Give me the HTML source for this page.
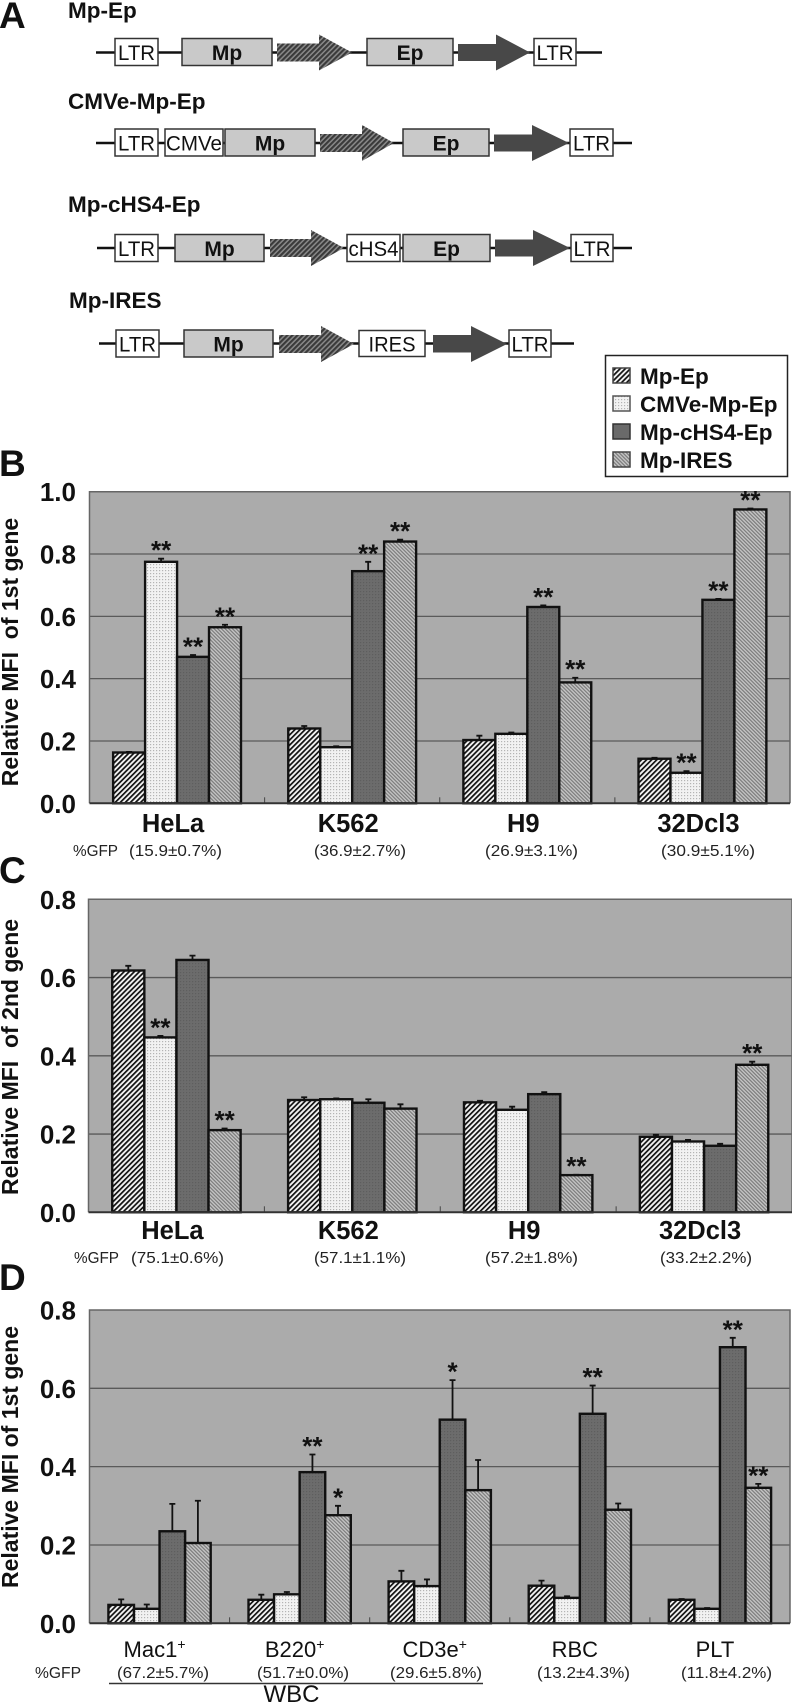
<!DOCTYPE html>
<html lang="en">
<head>
<meta charset="utf-8">
<title>MFI bar charts</title>
<style>
html,body{margin:0;padding:0;background:#fff;}
body{width:792px;height:1704px;overflow:hidden;}
svg{display:block;font-family:"Liberation Sans",Arial,sans-serif;filter:blur(0.35px);}
.ttl{font-size:22.5px;font-weight:bold;fill:#111;}
.ltr{font-size:21px;fill:#111;text-anchor:middle;}
.bold{font-size:21px;font-weight:bold;fill:#111;text-anchor:middle;}
.letter{font-size:37px;font-weight:bold;fill:#111;}
.leg{font-size:22.5px;font-weight:bold;fill:#111;}
.ytitle{font-size:23px;font-weight:bold;fill:#111;text-anchor:middle;}
.gfp{font-size:15.5px;fill:#222;}
.bx{fill:#fff;stroke:#333;stroke-width:1.5;}
.gb{fill:#c9c9c9;stroke:#333;stroke-width:1.5;}
.ln{stroke:#111;stroke-width:2.5;}
</style>
</head>
<body>
<svg id="fig" width="792" height="1704" viewBox="0 0 792 1704" xmlns="http://www.w3.org/2000/svg">
<defs>
<pattern id="p-hatch" width="3.6" height="3.6" patternUnits="userSpaceOnUse" patternTransform="rotate(45)"><rect width="3.6" height="3.6" fill="#f2f2f2"/><rect width="1.7" height="3.6" fill="#111"/></pattern>
<pattern id="p-dots" width="3" height="3" patternUnits="userSpaceOnUse"><rect width="3" height="3" fill="#f2f2f2"/><rect width="1.2" height="1.2" fill="#b4b4b4"/></pattern>
<pattern id="p-dark" width="3" height="3" patternUnits="userSpaceOnUse"><rect width="3" height="3" fill="#6c6c6c"/><rect width="1.2" height="1.2" fill="#5e5e5e"/></pattern>
<pattern id="p-ires" width="2.6" height="2.6" patternUnits="userSpaceOnUse" patternTransform="rotate(-45)"><rect width="2.6" height="2.6" fill="#c4c4c4"/><rect width="1.2" height="2.6" fill="#7c7c7c"/></pattern>
<pattern id="p-arrow" width="3.6" height="3.6" patternUnits="userSpaceOnUse" patternTransform="rotate(45)"><rect width="3.6" height="3.6" fill="#8a8a8a"/><rect width="2.1" height="3.6" fill="#3a3a3a"/></pattern>
</defs>

<text class="letter" x="-1" y="28">A</text>
<text class="letter" x="-1" y="476">B</text>
<text class="letter" x="-1" y="883">C</text>
<text class="letter" x="-1" y="1290">D</text>

<g>
<text class="ttl" x="68" y="18">Mp-Ep</text>
<line class="ln" x1="96" y1="52.5" x2="602" y2="52.5"/>
<rect class="bx" x="115" y="38.5" width="43" height="27"/><text class="ltr" x="136.5" y="60" textLength="37" lengthAdjust="spacingAndGlyphs">LTR</text>
<rect class="gb" x="182" y="38.5" width="90" height="27"/><text class="bold" x="227" y="60">Mp</text>
<polygon fill="url(#p-arrow)" points="277,43.5 319,43.5 319,34.5 352,52.5 319,70.5 319,61.5 277,61.5"/>
<rect class="gb" x="367" y="38.5" width="86" height="27"/><text class="bold" x="410" y="60">Ep</text>
<polygon fill="#484848" points="458,44 496,44 496,34.5 530,52.5 496,70.5 496,61 458,61"/>
<rect class="bx" x="534" y="38.5" width="42" height="27"/><text class="ltr" x="555" y="60" textLength="37" lengthAdjust="spacingAndGlyphs">LTR</text>
</g>

<g>
<text class="ttl" x="68" y="109">CMVe-Mp-Ep</text>
<line class="ln" x1="96" y1="143" x2="632" y2="143"/>
<rect class="bx" x="115" y="129" width="43" height="27"/><text class="ltr" x="136.5" y="150.5" textLength="37" lengthAdjust="spacingAndGlyphs">LTR</text>
<rect class="bx" x="165" y="129" width="58" height="27"/><text class="ltr" x="194" y="150.5" textLength="56" lengthAdjust="spacingAndGlyphs">CMVe</text>
<rect class="gb" x="225" y="129" width="90" height="27"/><text class="bold" x="270" y="150.5">Mp</text>
<polygon fill="url(#p-arrow)" points="320,134 362,134 362,125 394,143 362,161 362,152 320,152"/>
<rect class="gb" x="403" y="129" width="86" height="27"/><text class="bold" x="446" y="150.5">Ep</text>
<polygon fill="#484848" points="494,134.5 532,134.5 532,125 569,143 532,161 532,151.5 494,151.5"/>
<rect class="bx" x="570" y="129" width="43" height="27"/><text class="ltr" x="591.5" y="150.5" textLength="37" lengthAdjust="spacingAndGlyphs">LTR</text>
</g>

<g>
<text class="ttl" x="68" y="212">Mp-cHS4-Ep</text>
<line class="ln" x1="97" y1="248" x2="632" y2="248"/>
<rect class="bx" x="115" y="234.5" width="43" height="27"/><text class="ltr" x="136.5" y="256" textLength="37" lengthAdjust="spacingAndGlyphs">LTR</text>
<rect class="gb" x="175" y="234.5" width="89" height="27"/><text class="bold" x="219.5" y="256">Mp</text>
<polygon fill="url(#p-arrow)" points="270,239 311,239 311,230 344,248 311,266 311,257 270,257"/>
<rect class="bx" x="347" y="234.5" width="53" height="27"/><text class="ltr" x="373.5" y="256" textLength="50" lengthAdjust="spacingAndGlyphs">cHS4</text>
<rect class="gb" x="403" y="234.5" width="87" height="27"/><text class="bold" x="446.5" y="256">Ep</text>
<polygon fill="#484848" points="495,239.5 533,239.5 533,230 570,248 533,266 533,256.5 495,256.5"/>
<rect class="bx" x="571" y="234.5" width="42" height="27"/><text class="ltr" x="592" y="256" textLength="37" lengthAdjust="spacingAndGlyphs">LTR</text>
</g>

<g>
<text class="ttl" x="69" y="308">Mp-IRES</text>
<line class="ln" x1="99" y1="343.5" x2="574" y2="343.5"/>
<rect class="bx" x="116" y="330" width="43" height="27"/><text class="ltr" x="137.5" y="351.5" textLength="37" lengthAdjust="spacingAndGlyphs">LTR</text>
<rect class="gb" x="184" y="330" width="89" height="27"/><text class="bold" x="228.5" y="351.5">Mp</text>
<polygon fill="url(#p-arrow)" points="279,335 321,335 321,326 354,344 321,362 321,353 279,353"/>
<rect class="bx" x="359" y="330.5" width="66" height="26"/><text class="ltr" x="392" y="351.5" textLength="47" lengthAdjust="spacingAndGlyphs">IRES</text>
<polygon fill="#484848" points="433,335 471,335 471,326 507,344 471,362 471,352.5 433,352.5"/>
<rect class="bx" x="509" y="330" width="42" height="27"/><text class="ltr" x="530" y="351.5" textLength="37" lengthAdjust="spacingAndGlyphs">LTR</text>
</g>

<g>
<rect x="605.5" y="355.5" width="182" height="121" fill="#fff" stroke="#222" stroke-width="1.5"/>
<rect x="613" y="368" width="17" height="15" fill="url(#p-hatch)" stroke="#444" stroke-width="1.5"/>
<text class="leg" x="640" y="384">Mp-Ep</text>
<rect x="613" y="396" width="17" height="15" fill="url(#p-dots)" stroke="#555" stroke-width="1.5"/>
<text class="leg" x="640" y="412">CMVe-Mp-Ep</text>
<rect x="613" y="424" width="17" height="15" fill="#6a6a6a" stroke="#333" stroke-width="1.5"/>
<text class="leg" x="640" y="440">Mp-cHS4-Ep</text>
<rect x="613" y="452" width="17" height="15" fill="url(#p-ires)" stroke="#444" stroke-width="1.5"/>
<text class="leg" x="640" y="468">Mp-IRES</text>
</g>

<text class="ytitle" transform="translate(18,652) rotate(-90)">Relative MFI&#160;&#160;of 1st gene</text>
<text class="ytitle" transform="translate(18,1057) rotate(-90)">Relative MFI&#160;&#160;of 2nd gene</text>
<text class="ytitle" transform="translate(18,1457) rotate(-90)">Relative MFI of 1st gene</text>

<g>
<text class="gfp" x="73" y="856" textLength="45" lengthAdjust="spacingAndGlyphs">%GFP</text>
<text class="gfp" x="129" y="856" textLength="93" lengthAdjust="spacingAndGlyphs">(15.9±0.7%)</text>
<text class="gfp" x="314" y="856" textLength="92" lengthAdjust="spacingAndGlyphs">(36.9±2.7%)</text>
<text class="gfp" x="485" y="856" textLength="93" lengthAdjust="spacingAndGlyphs">(26.9±3.1%)</text>
<text class="gfp" x="661" y="856" textLength="94" lengthAdjust="spacingAndGlyphs">(30.9±5.1%)</text>
</g>
<g>
<text class="gfp" x="74" y="1263" textLength="45" lengthAdjust="spacingAndGlyphs">%GFP</text>
<text class="gfp" x="131" y="1263" textLength="93" lengthAdjust="spacingAndGlyphs">(75.1±0.6%)</text>
<text class="gfp" x="314" y="1263" textLength="92" lengthAdjust="spacingAndGlyphs">(57.1±1.1%)</text>
<text class="gfp" x="485" y="1263" textLength="93" lengthAdjust="spacingAndGlyphs">(57.2±1.8%)</text>
<text class="gfp" x="660" y="1263" textLength="92" lengthAdjust="spacingAndGlyphs">(33.2±2.2%)</text>
</g>
<g>
<text class="gfp" x="35" y="1678" textLength="46" lengthAdjust="spacingAndGlyphs">%GFP</text>
<text class="gfp" x="117" y="1678" textLength="92" lengthAdjust="spacingAndGlyphs">(67.2±5.7%)</text>
<text class="gfp" x="257" y="1678" textLength="92" lengthAdjust="spacingAndGlyphs">(51.7±0.0%)</text>
<text class="gfp" x="390" y="1678" textLength="92" lengthAdjust="spacingAndGlyphs">(29.6±5.8%)</text>
<text class="gfp" x="537" y="1678" textLength="93" lengthAdjust="spacingAndGlyphs">(13.2±4.3%)</text>
<text class="gfp" x="681" y="1678" textLength="91" lengthAdjust="spacingAndGlyphs">(11.8±4.2%)</text>
</g>
<line x1="109" y1="1683.5" x2="483" y2="1683.5" stroke="#333" stroke-width="1.5"/>
<text x="291.5" y="1702" font-size="24" fill="#111" text-anchor="middle">WBC</text>

<script>
// Panel B data
const bCategories = ['HeLa', 'K562', 'H9', '32Dcl3'];
const bTicks = ['0.0', '0.2', '0.4', '0.6', '0.8', '1.0'];
const bTickValues = [0, 0.2, 0.4, 0.6, 0.8, 1.0];
const bMpEp = [0.163, 0.24, 0.203, 0.143];
const bCmve = [0.775, 0.18, 0.223, 0.098];
const bChs4 = [0.47, 0.745, 0.63, 0.653];
const bIres = [0.565, 0.84, 0.388, 0.943];
const bMpEpErr = [0.002, 0.008, 0.014, 0.003];
const bCmveErr = [0.01, 0.003, 0.004, 0.005];
const bChs4Err = [0.006, 0.03, 0.005, 0.003];
const bIresErr = [0.008, 0.006, 0.015, 0.003];
const bMpEpStars = ['', '', '', ''];
const bCmveStars = ['**', '', '', '**'];
const bChs4Stars = ['**', '**', '**', '**'];
const bIresStars = ['**', '**', '**', '**'];

// Panel C data
const cCategories = ['HeLa', 'K562', 'H9', '32Dcl3'];
const cTicks = ['0.0', '0.2', '0.4', '0.6', '0.8'];
const cTickValues = [0, 0.2, 0.4, 0.6, 0.8];
const cMpEp = [0.618, 0.287, 0.281, 0.193];
const cCmve = [0.447, 0.289, 0.262, 0.181];
const cChs4 = [0.645, 0.28, 0.302, 0.17];
const cIres = [0.21, 0.265, 0.095, 0.377];
const cMpEpErr = [0.012, 0.007, 0.004, 0.005];
const cCmveErr = [0.004, 0.002, 0.008, 0.004];
const cChs4Err = [0.011, 0.009, 0.005, 0.005];
const cIresErr = [0.004, 0.011, 0.001, 0.008];
const cMpEpStars = ['', '', '', ''];
const cCmveStars = ['**', '', '', ''];
const cChs4Stars = ['', '', '', ''];
const cIresStars = ['**', '', '**', '**'];

// Panel D data
const dCategories = ['Mac1', 'B220', 'CD3e', 'RBC', 'PLT'];
const dCategorySup = ['+', '+', '+', '', ''];
const dTicks = ['0.0', '0.2', '0.4', '0.6', '0.8'];
const dTickValues = [0, 0.2, 0.4, 0.6, 0.8];
const dMpEp = [0.047, 0.06, 0.107, 0.096, 0.06];
const dCmve = [0.037, 0.074, 0.095, 0.065, 0.037];
const dChs4 = [0.235, 0.386, 0.52, 0.535, 0.705];
const dIres = [0.205, 0.276, 0.34, 0.29, 0.346];
const dMpEpErr = [0.014, 0.013, 0.027, 0.013, 0.002];
const dCmveErr = [0.011, 0.006, 0.017, 0.004, 0.002];
const dChs4Err = [0.07, 0.045, 0.101, 0.072, 0.024];
const dIresErr = [0.108, 0.024, 0.077, 0.016, 0.01];
const dMpEpStars = ['', '', '', '', ''];
const dCmveStars = ['', '', '', '', ''];
const dChs4Stars = ['', '**', '*', '**', '**'];
const dIresStars = ['', '*', '', '', '**'];

const seriesNames = ['mp-ep', 'cmve-mp-ep', 'mp-chs4-ep', 'mp-ires'];
const seriesFills = ['url(#p-hatch)', 'url(#p-dots)', 'url(#p-dark)', 'url(#p-ires)'];

const NS = 'http://www.w3.org/2000/svg';
const fig = document.getElementById('fig');

function mk(parent, tag, attrs, text) {
  const el = document.createElementNS(NS, tag);
  for (const k in attrs) el.setAttribute(k, attrs[k]);
  if (text !== undefined) el.textContent = text;
  parent.appendChild(el);
  return el;
}

function drawPanel(id, left, right, top, bottom, yMax, cats, sups, ticks, tickVals, vals, errs, stars, labelBaseline, labelStyle, labelShift) {
  const y = v => bottom - (v / yMax) * (bottom - top);
  const catW = (right - left) / cats.length;
  const cx = i => left + catW * (i + 0.5);
  const barW = catW * 0.1825;

  const g = mk(fig, 'g', {});
  
  

  const bg = mk(g, 'rect', {x: left, y: top, width: right - left, height: bottom - top, fill: '#ababab'});
  
  

  tickVals.forEach((v, i) => {
    if (v > 0 && v < yMax) {
      const gl = mk(g, 'line', {x1: left, x2: right, y1: y(v), y2: y(v), stroke: '#5a5a5a', 'stroke-width': 1.3});
      
      
    }
    const t = mk(g, 'text', {x: 76, y: y(v) + 9.5, 'font-size': 26, 'font-weight': 'bold', fill: '#111', 'text-anchor': 'end'}, ticks[i]);
    
    
  });

  const border = mk(g, 'path', {d: 'M' + left + ' ' + bottom + 'V' + top + 'H' + right + 'V' + bottom, fill: 'none', stroke: '#666', 'stroke-width': 1.5});
  
  

  cats.forEach((c, i) => {
    if (i > 0) {
      const tk = mk(g, 'line', {x1: left + catW * i, x2: left + catW * i, y1: bottom - 6, y2: bottom, stroke: '#444', 'stroke-width': 1});
      
      
    }
    const lab = mk(g, 'text', Object.assign({x: cx(i) + labelShift, y: labelBaseline, 'text-anchor': 'middle', fill: '#111'}, labelStyle), c);
    
    
    if (sups && sups[i]) {
      const s = mk(lab, 'tspan', {dy: -8, 'font-size': 14}, sups[i]);
      
      
    }
  });

  vals.forEach((series, s) => {
    series.forEach((v, i) => {
      const x = cx(i) + (s - 2) * barW;
      const errTop = y(v + errs[s][i]);
      const mid = x + barW / 2;
      const eb = mk(g, 'path', {d: 'M' + mid + ' ' + y(v) + 'V' + errTop + 'M' + (mid - 3) + ' ' + errTop + 'H' + (mid + 3), fill: 'none', stroke: '#111', 'stroke-width': 1.8});
      
      
      const bar = mk(g, 'rect', {x: x, y: y(v), width: barW, height: bottom - y(v), fill: seriesFills[s], stroke: '#111', 'stroke-width': 2.4});
      
      
      if (stars[s][i]) {
        const st = mk(g, 'text', {x: mid, y: errTop + 0.5, 'font-size': 26, 'font-weight': 'bold', fill: '#111', 'text-anchor': 'middle'}, stars[s][i]);
        
        
      }
    });
  });

  const axis = mk(g, 'line', {x1: left, x2: right, y1: bottom, y2: bottom, stroke: '#333', 'stroke-width': 2});
  
  
}

const boldLabel = {'font-size': 25.5, 'font-weight': 'bold'};
const plainLabel = {'font-size': 22};

drawPanel('b', 89.5, 790, 491.7, 803.3, 1.0, bCategories, null, bTicks, bTickValues,
  [bMpEp, bCmve, bChs4, bIres], [bMpEpErr, bCmveErr, bChs4Err, bIresErr], [bMpEpStars, bCmveStars, bChs4Stars, bIresStars], 832, boldLabel, -4);
drawPanel('c', 88.5, 792, 899.3, 1212.3, 0.8, cCategories, null, cTicks, cTickValues,
  [cMpEp, cCmve, cChs4, cIres], [cMpEpErr, cCmveErr, cChs4Err, cIresErr], [cMpEpStars, cCmveStars, cChs4Stars, cIresStars], 1239, boldLabel, -4);
drawPanel('d', 89.5, 790, 1310, 1623.3, 0.8, dCategories, dCategorySup, dTicks, dTickValues,
  [dMpEp, dCmve, dChs4, dIres], [dMpEpErr, dCmveErr, dChs4Err, dIresErr], [dMpEpStars, dCmveStars, dChs4Stars, dIresStars], 1657, plainLabel, -5);
</script>
</svg>
</body>
</html>
